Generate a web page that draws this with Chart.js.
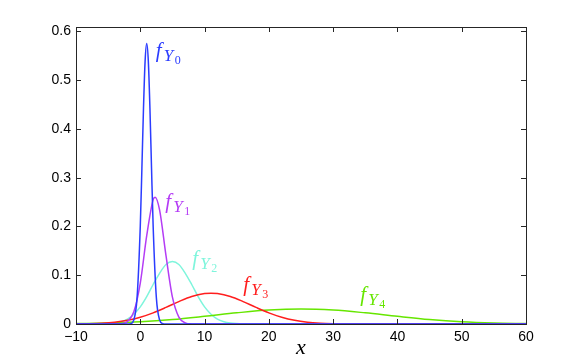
<!DOCTYPE html>
<html>
<head>
<meta charset="utf-8">
<script src="https://cdn.jsdelivr.net/npm/chart.js@4"></script>
<style>
  html, body { margin: 0; padding: 0; background: #fff; }
  canvas { display: block; }
</style>
</head>
<body>
<canvas id="chart" width="581" height="364"></canvas>
<script>
// values
var x_ticks = [-10, 0, 10, 20, 30, 40, 50, 60];
var y_ticks = [0, 0.1, 0.2, 0.3, 0.4, 0.5, 0.6];

var y0_x = [-10, -2, -1.5, -1, -0.5, 0, 0.25, 0.5, 0.75, 1, 1.25, 1.5, 1.75, 2, 2.5, 3, 3.5, 4, 60];
var y0_v = [0, 0, 0.0008, 0.0086, 0.054, 0.201, 0.319, 0.443, 0.539, 0.575, 0.539, 0.443, 0.319, 0.201, 0.054, 0.0086, 0.0008, 0, 0];

var y1_x = [-10, -4, -3, -2, -1, 0, 1, 2, 2.3, 3, 4, 5, 6, 7, 8, 9, 60];
var y1_v = [0, 0, 0.0006, 0.005, 0.025, 0.084, 0.181, 0.255, 0.26, 0.234, 0.14, 0.055, 0.014, 0.0023, 0.0002, 0, 0];

var y2_x = [-10, -5, -4, -3, -2, -1, 0, 1, 2, 3, 4, 5, 6, 7, 8, 9, 10, 11, 12, 13, 14, 15, 16, 18, 60];
var y2_v = [0, 0.0003, 0.002, 0.0048, 0.01, 0.02, 0.035, 0.056, 0.081, 0.104, 0.122, 0.128, 0.122, 0.104, 0.081, 0.056, 0.035, 0.02, 0.01, 0.0048, 0.002, 0.0008, 0.0003, 0, 0];

var y3_x = [-10, -8, -6, -4, -2, 0, 2, 4, 6, 8, 10, 11, 12, 14, 16, 18, 20, 22, 24, 26, 28, 30, 32, 34, 36, 60];
var y3_v = [0.0002, 0.0007, 0.0017, 0.0037, 0.0075, 0.0138, 0.0228, 0.034, 0.046, 0.0565, 0.0625, 0.0633, 0.0625, 0.0565, 0.046, 0.034, 0.0228, 0.0138, 0.0075, 0.0037, 0.0017, 0.0007, 0.0002, 0.0001, 0, 0];

var y4_x = [-10, -5, 0, 5, 10, 15, 20, 25, 30, 35, 40, 45, 50, 55, 60];
var y4_v = [0.0008, 0.0021, 0.0047, 0.0093, 0.0158, 0.0229, 0.0287, 0.0309, 0.0287, 0.0229, 0.0158, 0.0093, 0.0047, 0.0021, 0.0008];

var series_names = ['0', '1', '2', '3', '4'];
var series_colors = ['#2b3cff', '#b43cf5', '#7ff5dc', '#ff1e1e', '#66e600'];
// where each f_Y label sits, in data units (x, y of the baseline of "f")
var label_at = [[2.4, 0.548], [3.9, 0.238], [8.1, 0.12], [16.0, 0.068], [34.2, 0.047]];

function to_points(xs, vs) {
    var pts = [];
    for (var i = 0; i < xs.length; i++) pts.push({x: xs[i], y: vs[i]});
    return pts;
}

function line_set(name, xs, vs, color) {
    return {
        label: name,
        data: to_points(xs, vs),
        borderColor: color,
        borderWidth: 1.5,
        pointRadius: 0,
        showLine: true,
        fill: false,
        cubicInterpolationMode: 'monotone'
    };
}

var boxPlugin = {
    id: 'box',
    afterDraw: function(chart) {
        var ctx = chart.ctx, a = chart.chartArea;
        var xs = chart.scales.x, ys = chart.scales.y;
        ctx.save();
        ctx.strokeStyle = '#262626';
        ctx.lineWidth = 1;
        ctx.beginPath();
        x_ticks.forEach(function(v) {
            var px = Math.round(xs.getPixelForValue(v)) + 0.5;
            ctx.moveTo(px, a.bottom); ctx.lineTo(px, a.bottom - 5);
            ctx.moveTo(px, a.top); ctx.lineTo(px, a.top + 5);
        });
        y_ticks.forEach(function(v) {
            var py = Math.round(ys.getPixelForValue(v)) + 0.5;
            ctx.moveTo(a.left, py); ctx.lineTo(a.left + 5, py);
            ctx.moveTo(a.right, py); ctx.lineTo(a.right - 5, py);
        });
        ctx.stroke();
        ctx.strokeRect(Math.round(a.left) + 0.5, Math.round(a.top) + 0.5,
                       Math.round(a.right - a.left), Math.round(a.bottom - a.top));

        // curve labels f_{Y_k}
        label_at.forEach(function(p, i) {
            var px = xs.getPixelForValue(p[0]), py = ys.getPixelForValue(p[1]);
            ctx.fillStyle = series_colors[i];
            ctx.textBaseline = 'alphabetic';
            ctx.textAlign = 'left';
            ctx.font = 'italic 21px "Liberation Serif"';
            ctx.fillText('f', px, py);
            ctx.font = 'italic 17px "Liberation Serif"';
            ctx.fillText('Y', px + 8, py + 4);
            ctx.font = '12px "Liberation Serif"';
            ctx.fillText(series_names[i], px + 19, py + 7);
        });

        // axis title
        ctx.fillStyle = '#000';
        ctx.font = 'italic 22px "Liberation Serif"';
        ctx.textAlign = 'center';
        ctx.fillText('x', xs.getPixelForValue(25), 354);
        ctx.restore();
    }
};

var ctx = document.getElementById('chart').getContext('2d');
var myChart = new Chart(ctx, {
    type: 'scatter',
    data: {
        datasets: [
            line_set('Y0', y0_x, y0_v, series_colors[0]),
            line_set('Y1', y1_x, y1_v, series_colors[1]),
            line_set('Y3', y3_x, y3_v, series_colors[3]),
            line_set('Y4', y4_x, y4_v, series_colors[4]),
            line_set('Y2', y2_x, y2_v, series_colors[2])
        ]
    },
    options: {
        responsive: false,
        animation: false,
        devicePixelRatio: 1,
        layout: { padding: { top: 27, right: 55, left: 0, bottom: 0 } },
        plugins: { legend: { display: false }, tooltip: { enabled: false } },
        scales: {
            x: {
                type: 'linear', min: -10, max: 60,
                grid: { display: false, drawTicks: false },
                border: { display: false },
                afterFit: function(s) { s.height = 40; },
                afterBuildTicks: function(s) { s.ticks = x_ticks.map(function(v) { return {value: v}; }); },
                ticks: {
                    color: '#000', padding: 5,
                    font: { family: '"Liberation Sans"', size: 14 },
                    callback: function(v) { return String(v).replace('-', '\u2212'); }
                }
            },
            y: {
                type: 'linear', min: 0, max: 0.609,
                grid: { display: false, drawTicks: false },
                border: { display: false },
                afterFit: function(s) { s.width = 76; },
                afterBuildTicks: function(s) { s.ticks = y_ticks.map(function(v) { return {value: v}; }); },
                ticks: {
                    color: '#000', padding: 5,
                    font: { family: '"Liberation Sans"', size: 14 },
                    callback: function(v) { return String(Math.round(v * 10) / 10); }
                }
            }
        }
    },
    plugins: [boxPlugin]
});
</script>
</body>
</html>
